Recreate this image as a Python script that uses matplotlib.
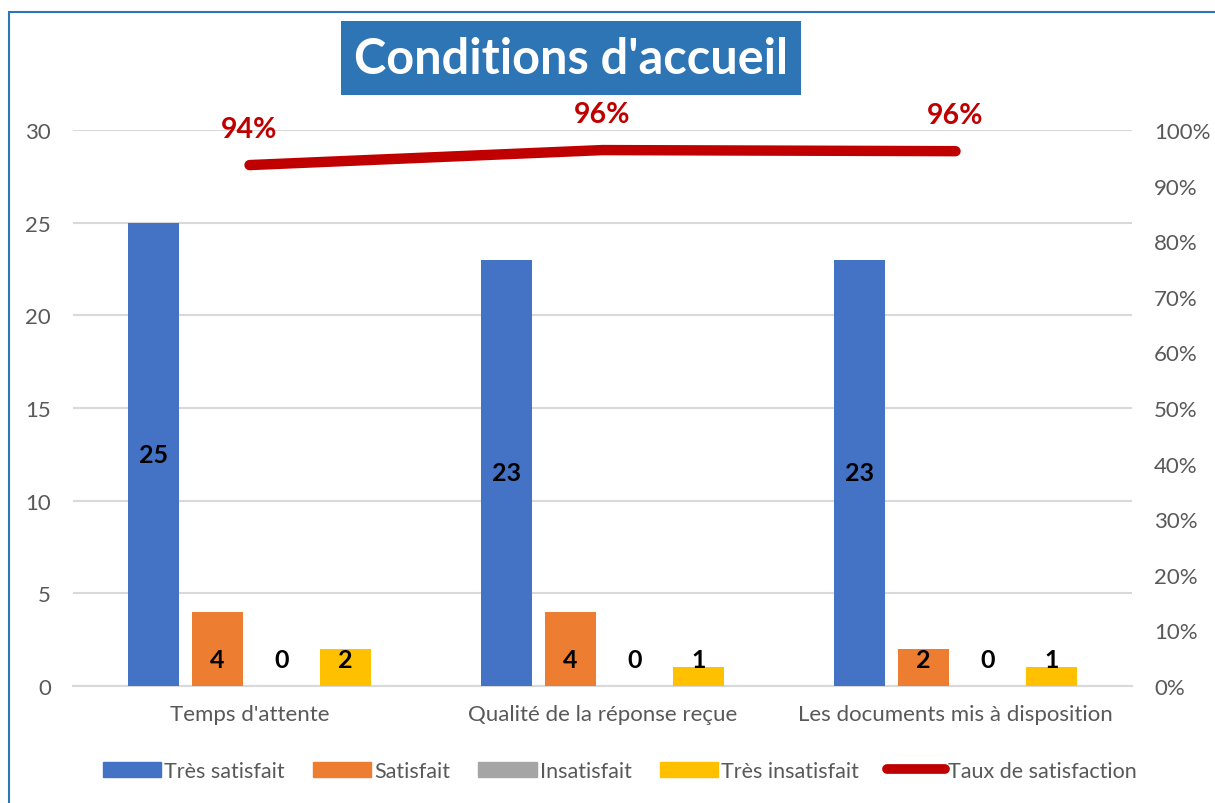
import numpy as np
import matplotlib.pyplot as plt
from matplotlib.patches import Rectangle
from matplotlib.lines import Line2D

plt.rcParams["font.family"] = ["Lato", "DejaVu Sans"]

# Data
categories = ["Temps d'attente", "Qualité de la réponse reçue", "Les documents mis à disposition"]
series_names = ["Très satisfait", "Satisfait", "Insatisfait", "Très insatisfait"]
tres_satisfait = [25, 23, 23]
satisfait = [4, 4, 2]
insatisfait = [0, 0, 0]
tres_insatisfait = [2, 1, 1]
taux_satisfaction = [0.937, 0.964, 0.962]
line_name = "Taux de satisfaction"

colors = ["#4472C4", "#ED7D31", "#A5A5A5", "#FFC000"]
line_color = "#C00000"
text_gray = "#595959"
grid_gray = "#D9D9D9"
title_blue = "#2E75B6"

fig = plt.figure(figsize=(12.15, 8.04), dpi=100)
ax = fig.add_axes([0.0601, 0.1455, 0.8716, 0.6915])
ax2 = ax.twinx()

x = np.arange(len(categories))
width = 0.145
step = 0.181
all_series = [tres_satisfait, satisfait, insatisfait, tres_insatisfait]

for i, (vals, col, name) in enumerate(zip(all_series, colors, series_names)):
    pos = x + (i - 1.5) * step
    ax.bar(pos, vals, width=width, color=col, label=name, zorder=3)
    for px, v in zip(pos, vals):
        if v >= 10:
            # big bars: label in the middle
            ax.text(px, v / 2, str(v), ha="center", va="center",
                    fontsize=18, fontweight="bold", color="black", zorder=5)
        else:
            # small bars: label near the base
            ax.annotate(str(v), (px, 0), xytext=(0, 19), textcoords="offset points",
                        ha="center", va="center", fontsize=18, fontweight="bold",
                        color="black", zorder=5)

ax.set_xlim(-0.5, len(categories) - 0.5)
ax.set_ylim(0, 30)
ax.set_yticks(range(0, 31, 5))
ax.set_xticks(x)
ax.set_xticklabels(categories)
ax.yaxis.grid(True, color=grid_gray, linewidth=1.5, zorder=0)
ax.set_axisbelow(True)
ax.tick_params(axis="both", length=0, labelsize=16, labelcolor=text_gray)
ax.tick_params(axis="x", pad=13)
ax.tick_params(axis="y", pad=16)
for s in ["top", "left", "right"]:
    ax.spines[s].set_visible(False)
ax.spines["bottom"].set_color(grid_gray)
ax.spines["bottom"].set_linewidth(1.5)

ax2.plot(x, taux_satisfaction, color=line_color, linewidth=7.5,
         solid_capstyle="round", solid_joinstyle="round", zorder=4)
for px, r in zip(x, taux_satisfaction):
    ax2.annotate(f"{r * 100:.0f}%", (px, r), xytext=(0, 26), textcoords="offset points",
                 ha="center", va="center", fontsize=20.5, fontweight="bold", color=line_color)
ax2.set_ylim(0, 1)
ax2.set_yticks(np.arange(0, 1.01, 0.1))
ax2.set_yticklabels([f"{int(round(t * 100))}%" for t in np.arange(0, 1.01, 0.1)])
ax2.tick_params(axis="y", length=0, labelsize=16, labelcolor=text_gray, pad=16)
for s in ["top", "left", "right", "bottom"]:
    ax2.spines[s].set_visible(False)

# Legend
handles = [Rectangle((0, 0), 1, 1, color=c) for c in colors]
handles.append(Line2D([0], [0], color=line_color, linewidth=7, solid_capstyle="round"))
leg = fig.legend(handles, series_names + [line_name], loc="center",
                 bbox_to_anchor=(620 / 1215, 1 - 772 / 804), ncol=5, frameon=False,
                 fontsize=15.5, handlelength=2.7, handleheight=0.75, handletextpad=0.15,
                 columnspacing=1.3)
for t in leg.get_texts():
    t.set_color(text_gray)

# Title box
fig.patches.append(Rectangle((341 / 1215, 1 - 96 / 804), 460 / 1215, 74 / 804,
                             transform=fig.transFigure, facecolor=title_blue,
                             edgecolor="none", zorder=1))
fig.text(571 / 1215, 1 - 59 / 804, "Conditions d'accueil", ha="center", va="center",
         fontsize=35, fontweight="bold", color="white", zorder=2)

# Outer border (left and top visible)
fig.patches.append(Rectangle((9 / 1215, -0.1), 1.2, 1.1 - 13 / 804,
                             transform=fig.transFigure, facecolor="none",
                             edgecolor=title_blue, linewidth=1.5, zorder=0))

fig.savefig("out.png", dpi=100)
